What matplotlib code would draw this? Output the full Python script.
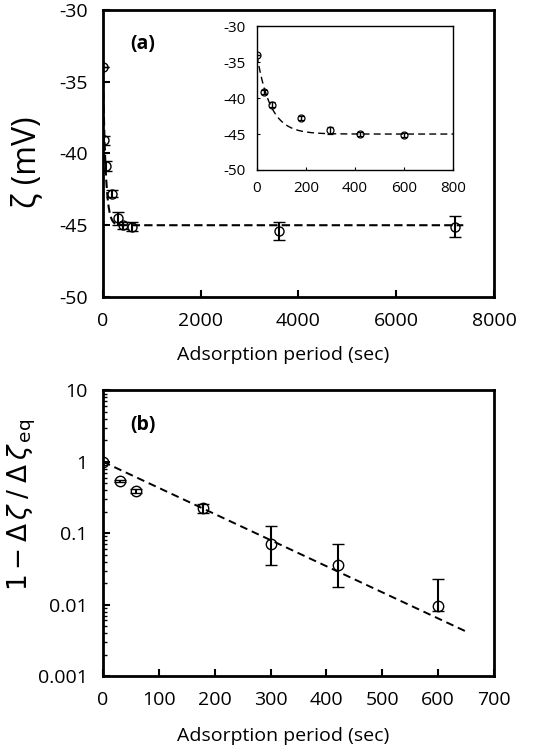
import numpy as np
import matplotlib
matplotlib.use('Agg')
import matplotlib.pyplot as plt
from matplotlib.ticker import FixedLocator, LogLocator, NullFormatter

plt.rcParams['font.family'] = ['Open Sans', 'DejaVu Sans']
plt.rcParams['mathtext.fontset'] = 'dejavusans'
plt.rcParams['axes.unicode_minus'] = False

# (a) zeta potential vs adsorption period
t_a = [0, 30, 60, 180, 300, 420, 600, 3600, 7200]
zeta = [-34.0, -39.1, -40.9, -42.8, -44.5, -45.0, -45.1, -45.4, -45.1]
zeta_err = [0.0, 0.3, 0.35, 0.25, 0.45, 0.25, 0.3, 0.6, 0.75]

# exponential fit parameters
zeta_0 = -34.0
zeta_eq = -45.0
tau = 55.0

# (b) normalised decay on log scale
t_b = [0, 30, 60, 180, 300, 420, 600]
decay = [1.0, 0.54, 0.39, 0.225, 0.070, 0.036, 0.0097]
decay_lo = [0.0, 0.02, 0.02, 0.035, 0.034, 0.0185, 0.0015]
decay_hi = [0.0, 0.02, 0.02, 0.035, 0.055, 0.035, 0.0128]
fit_b_t = [0, 650]
fit_b_y = [1.0, 0.0042]


def fit_curve(t):
    return zeta_eq + (zeta_0 - zeta_eq) * np.exp(-t / tau)


fig = plt.figure(figsize=(5.33, 7.52), dpi=100)

# ---- panel (a)
ax = fig.add_axes([0.193, 0.605, 0.734, 0.382])
tt = np.linspace(0, 7370, 3000)
ax.plot(tt, fit_curve(tt), color='black', lw=1.5, dashes=(4, 2))
ax.errorbar(t_a, zeta, yerr=zeta_err, fmt='o', mfc='none', mec='black',
            ms=6.5, mew=1.0, ecolor='black', elinewidth=1.5, capsize=4, capthick=1.5)
ax.set_xlim(0, 8000)
ax.set_ylim(-50, -30)
ax.xaxis.set_major_locator(FixedLocator([0, 2000, 4000, 6000, 8000]))
ax.yaxis.set_major_locator(FixedLocator([-50, -45, -40, -35, -30]))
ax.tick_params(direction='in', length=5, width=1.5, labelsize=14, pad=11,
               top=False, right=False)
for s in ax.spines.values():
    s.set_linewidth(2)
ax.set_xlabel('Adsorption period (sec)', fontsize=14)
ax.xaxis.set_label_coords(0.46, -0.17)
ax.set_ylabel('ζ (mV)', fontsize=23)
ax.yaxis.set_label_coords(-0.153, 0.47)
ax.text(0.07, 0.88, '(a)', transform=ax.transAxes, fontsize=14,
        fontweight='bold', va='center')

# ---- inset
axi = fig.add_axes([0.482, 0.774, 0.368, 0.191])
ti = np.linspace(0, 800, 800)
axi.plot(ti, fit_curve(ti), color='black', lw=1.0, dashes=(5, 3))
axi.errorbar(t_a[:7], zeta[:7], yerr=zeta_err[:7], fmt='o', mfc='none',
             mec='black', ms=5, mew=0.9, ecolor='black', elinewidth=1.0,
             capsize=2.5, capthick=1.0)
axi.set_xlim(0, 800)
axi.set_ylim(-50, -30)
axi.xaxis.set_major_locator(FixedLocator([0, 200, 400, 600, 800]))
axi.yaxis.set_major_locator(FixedLocator([-50, -45, -40, -35, -30]))
axi.tick_params(direction='in', length=2, width=0.8, labelsize=11, pad=8,
                top=False, right=False)
for s in axi.spines.values():
    s.set_linewidth(1.0)

# ---- panel (b)
axb = fig.add_axes([0.193, 0.101, 0.734, 0.380])
axb.plot(fit_b_t, fit_b_y, color='black', lw=1.4, dashes=(4, 2.5))
axb.errorbar(t_b, decay, yerr=[decay_lo, decay_hi], fmt='o', mfc='none',
             mec='black', ms=7.5, mew=1.0, ecolor='black', elinewidth=1.5,
             capsize=4, capthick=1.5)
axb.set_yscale('log')
axb.set_xlim(0, 700)
axb.set_ylim(0.001, 10)
axb.xaxis.set_major_locator(FixedLocator([0, 100, 200, 300, 400, 500, 600, 700]))
axb.yaxis.set_major_locator(FixedLocator([0.001, 0.01, 0.1, 1, 10]))
axb.set_yticklabels(['0.001', '0.01', '0.1', '1', '10'])
axb.yaxis.set_minor_locator(LogLocator(base=10, subs=np.arange(2, 10)))
axb.yaxis.set_minor_formatter(NullFormatter())
axb.tick_params(which='major', direction='in', length=5, width=1.5,
                labelsize=14, pad=11, top=False, right=False)
axb.tick_params(which='minor', direction='in', length=3, width=1.0,
                top=False, right=False)
for s in axb.spines.values():
    s.set_linewidth(2)
axb.set_xlabel('Adsorption period (sec)', fontsize=14)
axb.xaxis.set_label_coords(0.46, -0.178)
axb.set_ylabel(r'$1-\Delta\,\zeta\;/\;\Delta\,\zeta_{\,\mathrm{eq}}$',
               fontsize=19)
axb.yaxis.set_label_coords(-0.166, 0.6)
axb.text(0.07, 0.877, '(b)', transform=axb.transAxes, fontsize=14,
         fontweight='bold', va='center')

fig.savefig('out.png', dpi=100)
